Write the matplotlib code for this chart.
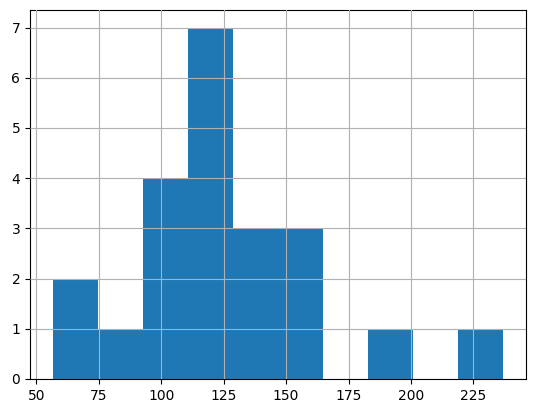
import matplotlib
matplotlib.use('Agg')
from matplotlib import pyplot as plt

values = [56.5, 70, 80, 95, 100, 105, 108, 112, 115, 118, 120, 122, 125, 127,
          130, 135, 140, 150, 155, 160, 190, 237]
n_bins = 10

fig = plt.figure(figsize=(5.34, 4.13), dpi=100)
ax = fig.add_axes([30 / 534, 34 / 413, 496 / 534, 369 / 413])

ax.hist(values, bins=n_bins, color='#1f77b4')
ax.grid(True)
ax.set_axisbelow(False)

fig.savefig('out.png', dpi=100)
